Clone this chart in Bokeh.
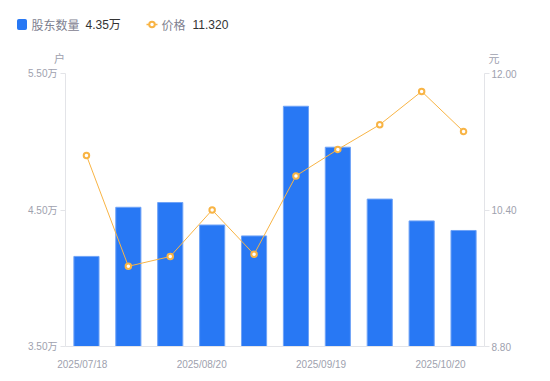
from bokeh.plotting import figure
from bokeh.models import Range1d, LinearAxis, FixedTicker, CustomJSTickFormatter
from bokeh.layouts import column
from bokeh.embed import file_html
from bokeh.resources import INLINE
from bokeh.core.properties import value

# ---- data ----
tick_labels = ["2025/07/18", "2025/08/20", "2025/09/19", "2025/10/20"]
tick_pos = [-0.1, 2.75, 5.6, 8.45]
shares = [4.16, 4.52, 4.555, 4.39, 4.31, 5.26, 4.96, 4.58, 4.42, 4.35]   # 万户
price = [11.04, 9.74, 9.855, 10.40, 9.88, 10.80, 11.11, 11.40, 11.79, 11.32]  # 元
idx = list(range(len(shares)))

BLUE = "#2878F4"
ORANGE = "#F8B445"
GRAY = "#9EA1AE"
FONT = "Liberation Sans, Noto Sans CJK SC"
CJK = "Noto Sans CJK SC"
AX = "#E3E4E8"
W = 550
HH = 64

# ---- header strip: legend + unit labels ----
hdr = figure(width=W, height=HH, x_range=Range1d(0, W), y_range=Range1d(HH, 0),
             toolbar_location=None, output_backend="svg", min_border=0)
hdr.frame_align = False
hdr.axis.visible = False
hdr.grid.visible = False
hdr.outline_line_color = None


def htext(x, y, text, font, color, size="12px", align="left"):
    hdr.text(x=[x], y=[y], text=[text], text_font=value(font), text_font_size=size,
             text_color=color, text_baseline="middle", text_align=align)


hdr.rect(x=[21.5], y=[24], width=9, height=10, color=BLUE, border_radius=1)
htext(31, 24, "股东数量", CJK, "#7E8190")
htext(85, 24, f"{shares[-1]:.2f}万", FONT, "#333333")
hdr.line(x=[146, 157], y=[24, 24], line_color=ORANGE, line_width=1.5)
hdr.scatter(x=[151.5], y=[24], size=5.5, marker="circle", fill_color="white",
            line_color=ORANGE, line_width=2)
htext(161, 24, "价格", CJK, "#7E8190")
htext(192, 24, f"{price[-1]:.3f}", FONT, "#333333")
htext(59, 57, "户", CJK, GRAY, "11px", "center")
htext(493.5, 57, "元", CJK, GRAY, "11px", "center")

# ---- main chart ----
p = figure(width=W, height=381 - HH, x_range=Range1d(-0.5, len(shares) - 0.5),
           y_range=Range1d(3.5, 5.5), toolbar_location=None, output_backend="svg",
           min_border_left=65, min_border_right=66, min_border_top=9, min_border_bottom=35)
p.frame_align = False
p.extra_y_ranges = {"price": Range1d(8.8, 12.0)}
p.grid.visible = False
p.outline_line_color = None

p.vbar(x=idx, top=shares, bottom=3.5, width=0.6, fill_color=BLUE,
       line_color="#6FA3F7", line_width=1)
p.line(x=idx, y=price, y_range_name="price", line_color=ORANGE, line_width=1)
p.scatter(x=idx, y=price, y_range_name="price", size=5.5, marker="circle",
          fill_color="white", line_color=ORANGE, line_width=2)

ya = p.yaxis[0]
ya.ticker = FixedTicker(ticks=[3.5, 4.5, 5.5])
ya.formatter = CustomJSTickFormatter(code="return tick.toFixed(2) + '万'")
ra = LinearAxis(y_range_name="price", ticker=FixedTicker(ticks=[8.8, 10.4, 12.0]),
                formatter=CustomJSTickFormatter(code="return tick.toFixed(2)"))
p.add_layout(ra, "right")
for ax, so in ((ya, 3), (ra, 2)):
    ax.axis_line_color = AX
    ax.major_tick_line_color = AX
    ax.major_tick_out = 5
    ax.major_tick_in = 0
    ax.minor_tick_line_color = None
    ax.major_label_standoff = so
    ax.major_label_text_font = FONT
    ax.major_label_text_font_size = "10px"
    ax.major_label_text_color = GRAY

xa = p.xaxis[0]
xa.ticker = FixedTicker(ticks=tick_pos)
xa.formatter = CustomJSTickFormatter(args=dict(pos=tick_pos, labels=tick_labels), code="""
let best = 0;
for (let i = 0; i < pos.length; i++) { if (Math.abs(pos[i]-tick) < Math.abs(pos[best]-tick)) best = i; }
return labels[best];
""")
xa.axis_line_color = AX
xa.major_tick_line_color = None
xa.minor_tick_line_color = None
xa.major_label_standoff = 6
xa.major_label_text_font = FONT
xa.major_label_text_font_size = "10px"
xa.major_label_text_color = GRAY

layout = column(hdr, p, spacing=0)
open("out.html", "w").write(file_html(layout, INLINE))
